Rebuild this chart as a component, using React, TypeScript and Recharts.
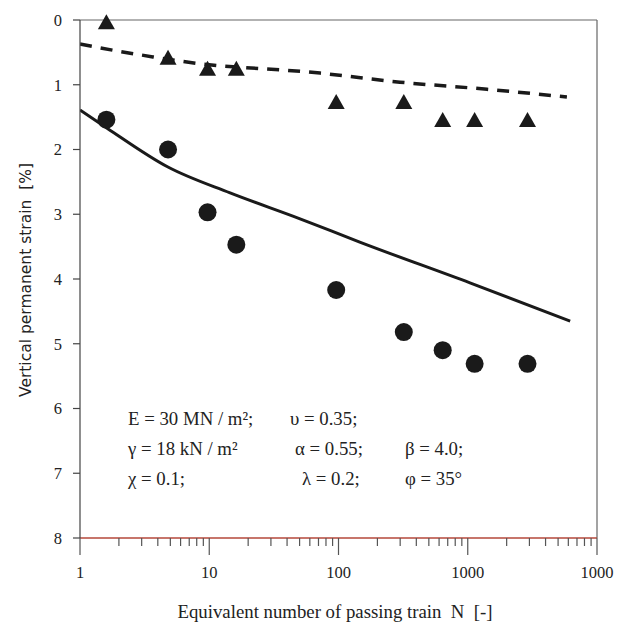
import React from "react";
import { ComposedChart, Line, Scatter, XAxis, YAxis, ReferenceLine } from "recharts";

// Measured data (N = equivalent number of passing trains)
const measuredN = [1.6, 4.8, 9.7, 16.2, 96, 320, 640, 1130, 2900];
const triangleStrain = [0.05, 0.6, 0.77, 0.77, 1.28, 1.28, 1.56, 1.56, 1.56];
const circleStrain = [1.54, 2.0, 2.97, 3.47, 4.17, 4.82, 5.1, 5.31, 5.31];

// Model curves
const dashedN = [1, 1.43, 3.67, 6.72, 72, 299, 1410, 5850];
const dashedStrain = [0.37, 0.43, 0.57, 0.65, 0.82, 0.96, 1.07, 1.19];
const solidN = [1, 1.62, 4.79, 14.5, 50.4, 146, 1040, 6200];
const solidStrain = [1.39, 1.67, 2.27, 2.67, 3.07, 3.43, 4.06, 4.65];

const majorTicks = [1, 10, 100, 1000, 10000];
const xTickLabels = ["1", "10", "100", "1000", "1000"];
const minorMult = [2, 3, 4, 5, 6, 7, 8, 9];
const yTicks = [0, 1, 2, 3, 4, 5, 6, 7, 8];

const allXTicks: number[] = [];
majorTicks.forEach((m, i) => {
  allXTicks.push(m);
  if (i < majorTicks.length - 1) minorMult.forEach((k) => allXTicks.push(m * k));
});

const triangles = measuredN.map((n, i) => ({ n, v: triangleStrain[i] }));
const circles = measuredN.map((n, i) => ({ n, v: circleStrain[i] }));
const dashed = dashedN.map((n, i) => ({ n, v: dashedStrain[i] }));
const solid = solidN.map((n, i) => ({ n, v: solidStrain[i] }));

const serif = "Liberation Serif, DejaVu Serif, Times New Roman, serif";

const XTick = (props: any) => {
  const { x, y, payload } = props;
  const idx = majorTicks.indexOf(payload.value);
  const major = idx >= 0;
  return (
    <g>
      <line x1={x} x2={x} y1={y} y2={y + (major ? 17 : 8)} stroke="#555" strokeWidth={1.2} />
      {major && (
        <text x={x} y={y + 40} textAnchor="middle" style={{ fontFamily: serif, fontSize: 16.5 }} fill="#222">
          {xTickLabels[idx]}
        </text>
      )}
    </g>
  );
};

const Triangle = (props: any) => {
  const { cx, cy } = props;
  if (cx == null || cy == null) return null;
  return <polygon points={`${cx},${cy - 9} ${cx - 8.5},${cy + 6} ${cx + 8.5},${cy + 6}`} fill="#1a1a1a" />;
};

const Dot = (props: any) => {
  const { cx, cy } = props;
  if (cx == null || cy == null) return null;
  return <circle cx={cx} cy={cy} r={9} fill="#1a1a1a" />;
};

const annotStyle = { fontFamily: serif, fontSize: 18.8 } as const;

export default function App() {
  return (
    <div style={{ position: "relative", width: 622, height: 627, margin: "-8px 0 0 -8px", background: "#fff" }}>
      <ComposedChart width={622} height={627} margin={{ top: 20, right: 25, bottom: 29, left: 0 }}>
        <XAxis
          dataKey="n"
          type="number"
          scale="log"
          domain={[1, 10000]}
          ticks={allXTicks}
          interval={0}
          tickSize={0}
          tickMargin={0}
          tickLine={false}
          tick={<XTick />}
          height={60}
          axisLine={{ stroke: "#b5473a", strokeWidth: 1.5 }}
          allowDataOverflow
        />
        <YAxis
          dataKey="v"
          type="number"
          domain={[0, 8]}
          reversed
          ticks={yTicks}
          interval={0}
          width={80}
          tickSize={7}
          tickMargin={11}
          axisLine={{ stroke: "#444", strokeWidth: 1.2 }}
          tickLine={{ stroke: "#444", strokeWidth: 1.2 }}
          tick={{ fontFamily: serif, fontSize: 16.5, fill: "#222", style: { fontFamily: serif } }}
        />
        <ReferenceLine y={0} stroke="#666" strokeWidth={1.2} />
        <ReferenceLine x={10000} stroke="#666" strokeWidth={1.2} />
        <Line
          data={dashed}
          dataKey="v"
          type="monotone"
          stroke="#1a1a1a"
          strokeWidth={3.5}
          strokeDasharray="12 9"
          dot={false}
          isAnimationActive={false}
        />
        <Line
          data={solid}
          dataKey="v"
          type="monotone"
          stroke="#1a1a1a"
          strokeWidth={3}
          dot={false}
          isAnimationActive={false}
        />
        <Scatter data={triangles} dataKey="v" shape={<Triangle />} isAnimationActive={false} />
        <Scatter data={circles} dataKey="v" shape={<Dot />} isAnimationActive={false} />
      </ComposedChart>
      <svg width={622} height={627} style={{ position: "absolute", left: 0, top: 0, pointerEvents: "none" }}>
        <g fill="#222" style={annotStyle}>
          <text x={128} y={425}>E = 30 MN / m²;</text>
          <text x={290} y={425}>υ = 0.35;</text>
          <text x={128} y={455}>γ = 18 kN / m²</text>
          <text x={295} y={455}>α = 0.55;</text>
          <text x={405} y={455}>β = 4.0;</text>
          <text x={128} y={485}>χ = 0.1;</text>
          <text x={302} y={485}>λ = 0.2;</text>
          <text x={405} y={485}>φ = 35°</text>
        </g>
        <text
          x={335}
          y={618}
          textAnchor="middle"
          fill="#222"
          style={{ fontFamily: serif, fontSize: 18.8, whiteSpace: "pre" }}
        >
          {"Equivalent number of passing train\u00a0\u00a0N\u00a0\u00a0[-]"}
        </text>
        <text
          x={0}
          y={0}
          transform="translate(31,280) rotate(-90)"
          textAnchor="middle"
          fill="#222"
          style={{ fontFamily: "DejaVu Sans, sans-serif", fontSize: 15.5 }}
        >
          {"Vertical permanent strain\u00a0\u00a0[%]"}
        </text>
      </svg>
    </div>
  );
}
